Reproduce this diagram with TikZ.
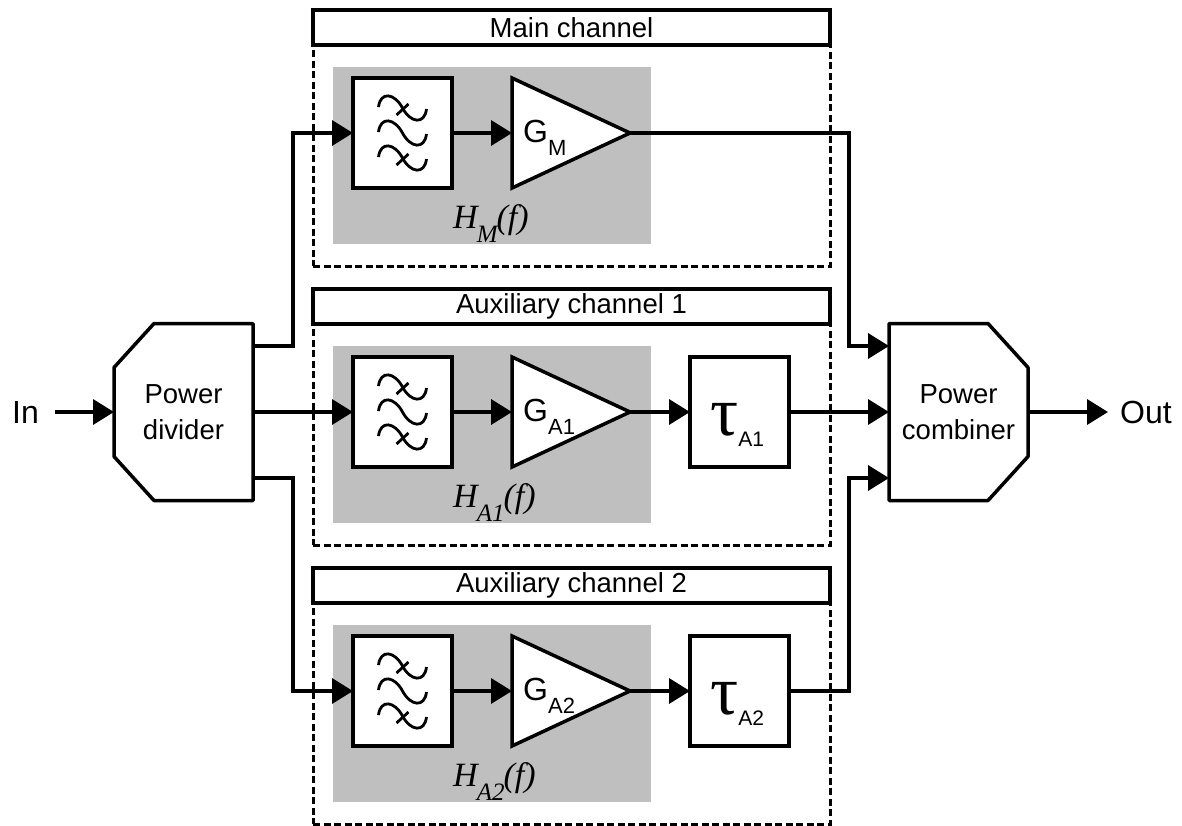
\documentclass[tikz,border=0pt]{standalone}
\usepackage{fontspec}
\setmainfont{Liberation Sans}
\newfontfamily\labserif{Liberation Serif}
\usetikzlibrary{arrows.meta,shapes.geometric}
\newcommand{\fsz}[1]{\fontsize{#1}{#1}\selectfont}
\newcommand{\gainlab}[1]{\fsz{32}G\raisebox{-13pt}{\fsz{22}#1}}
\newcommand{\delaylab}[1]{{\labserif\fsz{70}τ}\raisebox{-11pt}{\fsz{21}#1}}
\newcommand{\resplab}[1]{{\labserif\itshape\fsz{34}H\kern-1pt\raisebox{-14pt}{\fsz{25}#1}\kern-1pt(f)}}
\tikzset{
	wire/.style={line width=3.5pt, -{Triangle[length=21pt,width=25pt]}},
	block/.style={draw, fill=white, line width=3.5pt, minimum width=99pt, minimum height=110pt, inner sep=0pt, outer sep=0pt},
	titlebox/.style={draw, fill=white, line width=3.2pt, minimum width=517pt, minimum height=35pt, inner sep=0pt, outer sep=0pt, font=\fsz{27.5}},
	dashbox/.style={draw, line width=3pt, dash pattern=on 7pt off 3.5pt, minimum width=517pt, minimum height=221pt, inner sep=0pt},
	graybox/.style={fill=gray!50!white, minimum width=318pt, minimum height=177pt, inner sep=0pt},
	ampbox/.style={draw, fill=white, line width=3.5pt, isosceles triangle, isosceles triangle stretches, minimum width=110pt, minimum height=118pt, inner sep=0pt, outer sep=0pt},
	portbox/.style={minimum width=139pt, minimum height=177pt, inner sep=0pt, outer sep=0pt, align=center, font=\fsz{27.5}},
	portline/.style={line width=3.5pt, line join=round},
	filtersym/.pic={
		\foreach \w in {-25,0,25} {\draw[line width=2.8pt] (-24,\w-1) .. controls (-22,\w-17) and (-8,\w-15) .. (0,\w) .. controls (8,\w+15) and (22,\w+17) .. (24,\w+1);}
		\foreach \w in {-25,25} {\draw[line width=2.8pt] (-6,\w+7) -- (6,\w-4);}
	}
}
\begin{document}
\begin{tikzpicture}[x=1pt, y=-1pt]
	\useasboundingbox (0,0) rectangle (1182,825);
	% channels
	\foreach \ch/\dy/\chname in {M/0/Main channel, A1/279/Auxiliary channel 1, A2/558/Auxiliary channel 2} {
		\node[graybox] (gray\ch) at (492,155.5+\dy) {};
		\node[dashbox] (dash\ch) at (571.5,155.5+\dy) {};
		\node[titlebox] (title\ch) at (571.5,27.5+\dy) {\chname};
		\node[block] (filt\ch) at (402.5,133+\dy) {};
		\pic at (filt\ch) {filtersym};
		\node[ampbox, anchor=lower side] (amp\ch) at (512,133+\dy) {};
		\node[anchor=base west, inner sep=0pt] (gain\ch) at (523,142+\dy) {\gainlab{\ch}};
		\node[anchor=base west, inner sep=0pt] (resp\ch) at (453,228+\dy) {\resplab{\ch}};
		\draw[wire] (filt\ch.east) -- (amp\ch.lower side);
	}
	\foreach \ch/\dy in {A1/279, A2/558} {
		\node[block] (tau\ch) at (739.5,133+\dy) {};
		\node[anchor=base west, inner sep=0pt] (delay\ch) at (710,156+\dy) {\delaylab{\ch}};
		\draw[wire] (amp\ch.apex) -- (tau\ch.west);
	}
	% divider and combiner
	\node[portbox] (divider) at (183.5,412) {Power\\[9pt]divider};
	\node[portbox] (combiner) at (958.5,412) {Power\\[9pt]combiner};
	\draw[portline] (divider.north east) -- (divider.south east) -- ++(-99,0) -- ++(-40,-44) -- ++(0,-89) -- ++(40,-44) -- cycle;
	\draw[portline] (combiner.north west) -- (combiner.south west) -- ++(99,0) -- ++(40,-44) -- ++(0,-89) -- ++(-40,-44) -- cycle;
	\coordinate (divtop) at (253,346);
	\coordinate (divbot) at (253,478);
	\coordinate (combtop) at (889,346);
	\coordinate (combbot) at (889,478);
	\node[inner xsep=16pt, inner ysep=0pt, font=\fsz{32}] (innode) at (25.5,412) {In};
	\node[inner xsep=12pt, inner ysep=0pt, font=\fsz{32}] (outnode) at (1146,412) {Out};
	\draw[wire] (innode.east) -- (divider.west);
	\draw[wire] (combiner.east) -- (outnode.west);
	\draw[wire] (divtop) -- ++(40,0) |- (filtM.west);
	\draw[wire] (divider.east) -- (filtA1.west);
	\draw[wire] (divbot) -- ++(40,0) |- (filtA2.west);
	\draw[wire] (ampM.apex) -- ++(219,0) |- (combtop);
	\draw[wire] (tauA1.east) -- (combiner.west);
	\draw[wire] (tauA2.east) -- ++(60,0) |- (combbot);
\end{tikzpicture}
\end{document}
